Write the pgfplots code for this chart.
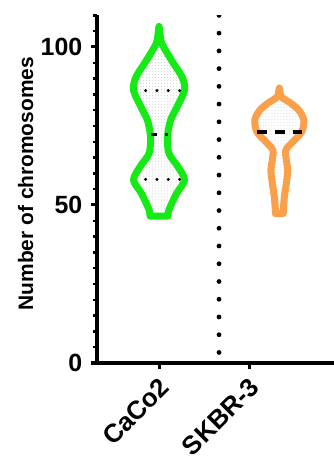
\documentclass[border=0pt]{standalone}
\usepackage{fontspec}
\setmainfont{Liberation Sans}
\usepackage{pgfplots}
\usepackage{pgfplotstable}
\pgfplotsset{compat=1.18}
\usetikzlibrary{patterns}
\definecolor{vgreen}{RGB}{20,235,20}
\definecolor{vorange}{RGB}{250,160,75}

\pgfplotstableread{
x y
0.900 46.5
0.889 48.5
0.806 53.6
0.717 57.9
0.789 62.1
0.889 66.3
0.906 71.5
0.872 76.8
0.800 81.0
0.717 86.3
0.744 90.5
0.861 95.8
0.967 101.0
0.989 104.0
1.000 106.5
1.011 104.0
1.033 101.0
1.139 95.8
1.256 90.5
1.283 86.3
1.200 81.0
1.128 76.8
1.094 71.5
1.111 66.3
1.211 62.1
1.283 57.9
1.194 53.6
1.111 48.5
1.100 46.5
}\caco

\pgfplotstableread{
x y
2.293 47.3
2.293 48.4
2.281 52.6
2.259 56.9
2.243 61.1
2.259 64.2
2.265 67.4
2.187 70.0
2.087 73.2
2.065 76.9
2.120 80.0
2.209 82.2
2.315 84.3
2.337 87.0
2.359 84.3
2.465 82.2
2.554 80.0
2.609 76.9
2.587 73.2
2.487 70.0
2.409 67.4
2.415 64.2
2.431 61.1
2.415 56.9
2.393 52.6
2.381 48.4
2.381 47.3
}\skbr

\begin{document}
\begin{tikzpicture}
\useasboundingbox (0,0) rectangle (334bp,457bp);
\begin{axis}[
  at={(97bp,94bp)}, anchor=south west,
  scale only axis, width=237bp, height=347.6bp,
  xmin=0.3111, xmax=2.9444, ymin=0, ymax=110,
  axis x line*=bottom, axis y line*=left,
  axis line style={line width=3bp, black},
  xtick={1,2}, xticklabels={CaCo2,SKBR-3},
  ytick={0,50,100}, minor ytick={5,10,...,110},
  tick align=outside,
  major tick length=6.5bp, minor tick length=4bp,
  tick style={black, line width=3bp},
  minor tick style={black, line width=2.5bp},
  /pgf/number format/assume math mode=true,
  yticklabel style={font=\bfseries\fontsize{25}{25}\selectfont, anchor=east, inner sep=0pt, xshift=-8bp},
  xticklabel style={font=\bfseries\fontsize{26}{26}\selectfont, rotate=45, anchor=north east, inner sep=0pt, xshift=-5bp, yshift=-4bp},
  ylabel={Number of chromosomes},
  ylabel style={font=\bfseries\fontsize{21}{21}\selectfont, at={(axis description cs:-0.270,0.516)}, anchor=base},
]
\addplot[draw=vgreen, line width=7bp, line join=round, pattern=dots, pattern color=gray!40, smooth, tension=0.5] table {\caco} -- cycle;
\addplot[draw=vorange, line width=7bp, line join=round, pattern=dots, pattern color=gray!40, smooth, tension=0.5] table {\skbr} -- cycle;
\addplot[black, line width=3.2bp, dash pattern=on 6bp off 8bp] coordinates {(0.906,72.2) (1.100,72.2)};
\addplot[black, line width=3.3bp, line cap=round, dash pattern=on 0pt off 11.3bp] coordinates {(0.852,86.2) (1.24,86.2)};
\addplot[black, line width=3.3bp, line cap=round, dash pattern=on 0pt off 11.3bp] coordinates {(0.852,58.1) (1.24,58.1)};
\addplot[black, line width=4bp, dash pattern=on 10bp off 8bp] coordinates {(2.086,73.2) (2.586,73.2)};
\addplot[black, line width=4.8bp, line cap=round, dash pattern=on 0pt off 17.74bp] coordinates {(1.667,110) (1.667,3.0)};
\end{axis}
\end{tikzpicture}
\end{document}
